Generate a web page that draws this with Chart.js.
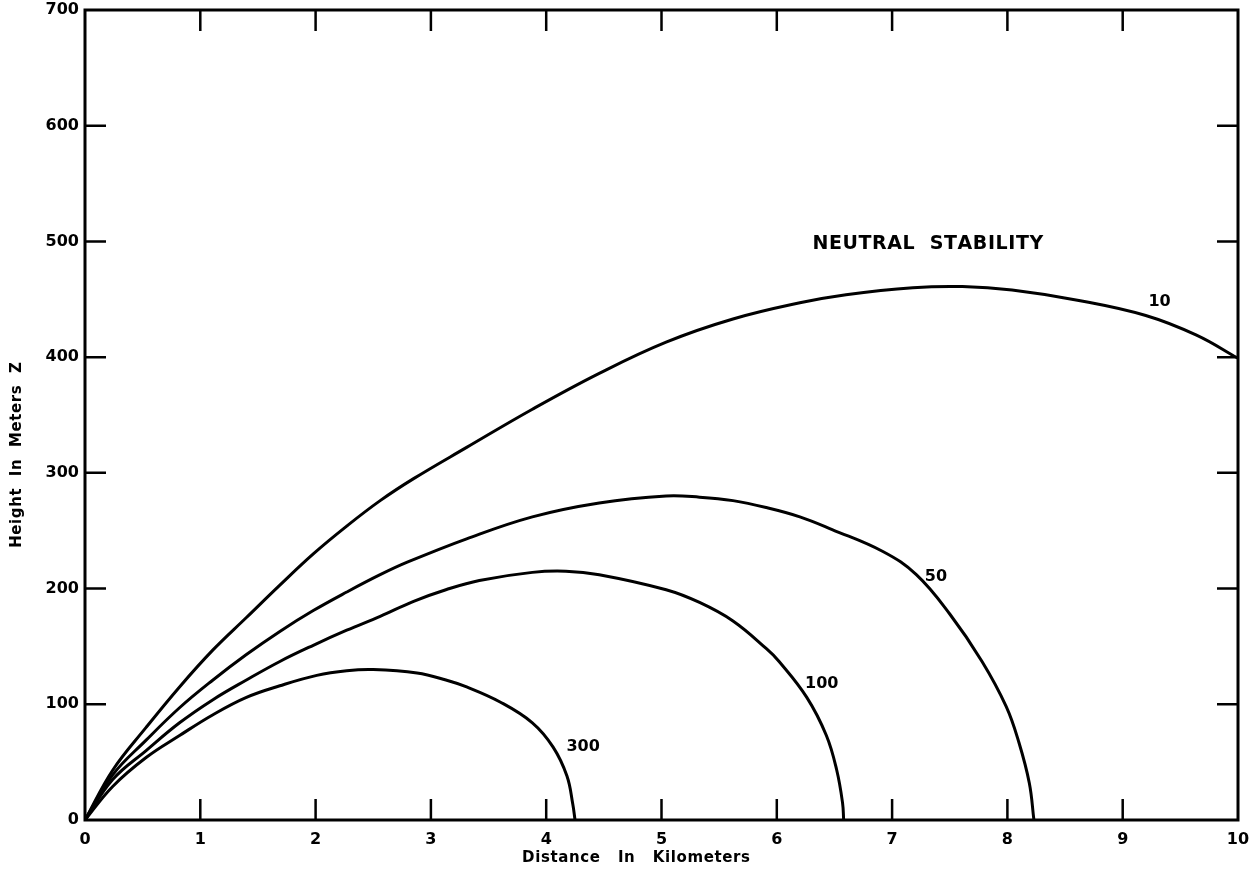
<!DOCTYPE html>
<html>
<head>
<meta charset="utf-8">
<script src="https://cdn.jsdelivr.net/npm/chart.js@4.4.1/dist/chart.umd.min.js"></script>
<style>
  html, body { margin: 0; padding: 0; background: #fff; }
  #wrap { width: 1257px; height: 871px; }
</style>
</head>
<body>
<div id="wrap"><canvas id="plumeChart"></canvas></div>
<script>
// Plume centre-line height vs downwind distance, neutral stability,
// one curve per parameter value (10, 50, 100, 300).

// Distance (km) and height (m).
const dist10 = [0, 0.24, 0.53, 0.82, 1.11, 1.40, 1.69, 1.98, 2.27, 2.56, 2.85, 3.31, 3.88, 4.46, 5.04, 5.62, 6.20, 6.60, 7.18, 7.61, 8.04, 8.62, 9.20, 9.64, 10.0];
const height10 = [0, 43, 80, 115, 147, 175, 203, 230, 254, 276, 295, 322, 355, 386, 413, 433, 447, 454, 460, 461, 458, 449, 436, 419, 399];

const dist50 = [0, 0.24, 0.53, 0.82, 1.11, 1.40, 1.69, 1.98, 2.27, 2.56, 2.80, 3.31, 3.88, 4.46, 5.04, 5.33, 5.62, 5.91, 6.20, 6.48, 6.92, 7.21, 7.50, 7.78, 7.99, 8.10, 8.19, 8.23];
const height50 = [0, 39, 69, 97, 121, 143, 163, 181, 197, 212, 223, 243, 262, 274, 280, 279, 276, 270, 262, 251, 232, 212, 178, 137, 98, 67, 32, 0];

const dist100 = [0, 0.24, 0.53, 0.82, 1.11, 1.40, 1.69, 1.98, 2.27, 2.56, 2.85, 3.13, 3.42, 3.88, 4.17, 4.46, 5.04, 5.33, 5.62, 5.91, 6.02, 6.26, 6.43, 6.52, 6.57, 6.58];
const height100 = [0, 35, 60, 84, 104, 121, 137, 151, 164, 176, 189, 199, 207, 214, 215, 212, 199, 188, 172, 148, 137, 106, 73, 43, 15, 0];

const dist300 = [0, 0.24, 0.53, 0.82, 1.11, 1.40, 1.69, 2.01, 2.27, 2.50, 2.88, 3.13, 3.31, 3.60, 3.88, 4.06, 4.18, 4.23, 4.25];
const height300 = [0, 29, 54, 73, 91, 106, 116, 125, 129, 130, 127, 121, 115, 102, 84, 63, 38, 14, 0];

// Curve labels: text and the (km, m) point where each sits.
const curveLabels = ['10', '50', '100', '300'];
const labelDist = [9.32, 7.38, 6.39, 4.32];
const labelHeight = [448, 210, 118, 63];

const FONT = 'DejaVu Sans';

function pts(xs, ys) {
    return xs.map((x, i) => ({ x: x, y: ys[i] }));
}

function curve(label, xs, ys) {
    return {
        label: label,
        data: pts(xs, ys),
        showLine: true,
        borderColor: '#000',
        borderWidth: 3,
        pointRadius: 0,
        tension: 0.4,
        fill: false
    };
}

// Draw text with extra spacing between letters (canvas has no word-spacing).
function spacedText(ctx, txt, cx, cy, gap) {
    const chars = [...txt];
    const widths = chars.map(c => ctx.measureText(c).width + gap);
    const total = widths.reduce((s, w) => s + w, 0) - gap;
    let x = cx - total / 2;
    ctx.textAlign = 'left';
    chars.forEach((c, i) => { ctx.fillText(c, x, cy); x += widths[i]; });
    ctx.textAlign = 'center';
}

// Frame, inward tick marks, axis titles and in-plot text.
const decorations = {
    id: 'decorations',
    afterDraw(chart) {
        const ctx = chart.ctx;
        const a = chart.chartArea;
        const xs = chart.scales.x, ys = chart.scales.y;
        ctx.save();
        ctx.strokeStyle = '#000';
        ctx.lineWidth = 3;
        ctx.strokeRect(a.left, a.top, a.right - a.left, a.bottom - a.top);

        ctx.lineWidth = 2.5;
        ctx.beginPath();
        xs.ticks.forEach(t => {
            if (t.value <= xs.min || t.value >= xs.max) return;
            const px = xs.getPixelForValue(t.value);
            ctx.moveTo(px, a.bottom); ctx.lineTo(px, a.bottom - 21);
            ctx.moveTo(px, a.top); ctx.lineTo(px, a.top + 21);
        });
        ys.ticks.forEach(t => {
            if (t.value <= ys.min || t.value >= ys.max) return;
            const py = ys.getPixelForValue(t.value);
            ctx.moveTo(a.left, py); ctx.lineTo(a.left + 21, py);
            ctx.moveTo(a.right, py); ctx.lineTo(a.right - 21, py);
        });
        ctx.stroke();

        ctx.fillStyle = '#000';
        ctx.textAlign = 'center';
        ctx.textBaseline = 'middle';

        ctx.font = 'bold 16px ' + FONT;
        curveLabels.forEach((txt, i) => {
            ctx.fillText(txt, xs.getPixelForValue(labelDist[i]), ys.getPixelForValue(labelHeight[i]));
        });

        ctx.font = 'bold 19px ' + FONT;
        spacedText(ctx, 'NEUTRAL  STABILITY', xs.getPixelForValue(7.31), ys.getPixelForValue(498), 0.6);

        ctx.font = 'bold 15px ' + FONT;
        spacedText(ctx, 'Distance   In   Kilometers', 636, 858, 0.6);

        ctx.translate(17, 455);
        ctx.rotate(-Math.PI / 2);
        spacedText(ctx, 'Height  In  Meters  Z', 0, 0, 0.6);
        ctx.restore();
    }
};

new Chart(document.getElementById('plumeChart'), {
    type: 'scatter',
    data: {
        datasets: [
            curve('10', dist10, height10),
            curve('50', dist50, height50),
            curve('100', dist100, height100),
            curve('300', dist300, height300)
        ]
    },
    options: {
        responsive: true,
        maintainAspectRatio: false,
        animation: false,
        layout: { padding: { left: 0, top: 10, right: 19, bottom: 0 } },
        plugins: {
            legend: { display: false },
            tooltip: { enabled: false }
        },
        scales: {
            x: {
                type: 'linear', min: 0, max: 10,
                grid: { display: false, drawTicks: false },
                border: { display: false },
                ticks: { stepSize: 1, color: '#000', padding: 10, maxRotation: 0,
                         font: { family: FONT, size: 16, weight: 'bold' } },
                afterFit: s => { s.height = 51; s.paddingLeft = 0; s.paddingRight = 0; }
            },
            y: {
                type: 'linear', min: 0, max: 700,
                grid: { display: false, drawTicks: false },
                border: { display: false },
                ticks: { stepSize: 100, color: '#000', padding: 6,
                         font: { family: FONT, size: 16, weight: 'bold' } },
                afterFit: s => { s.width = 85; s.paddingTop = 0; s.paddingBottom = 0; }
            }
        }
    },
    plugins: [decorations]
});
</script>
</body>
</html>
